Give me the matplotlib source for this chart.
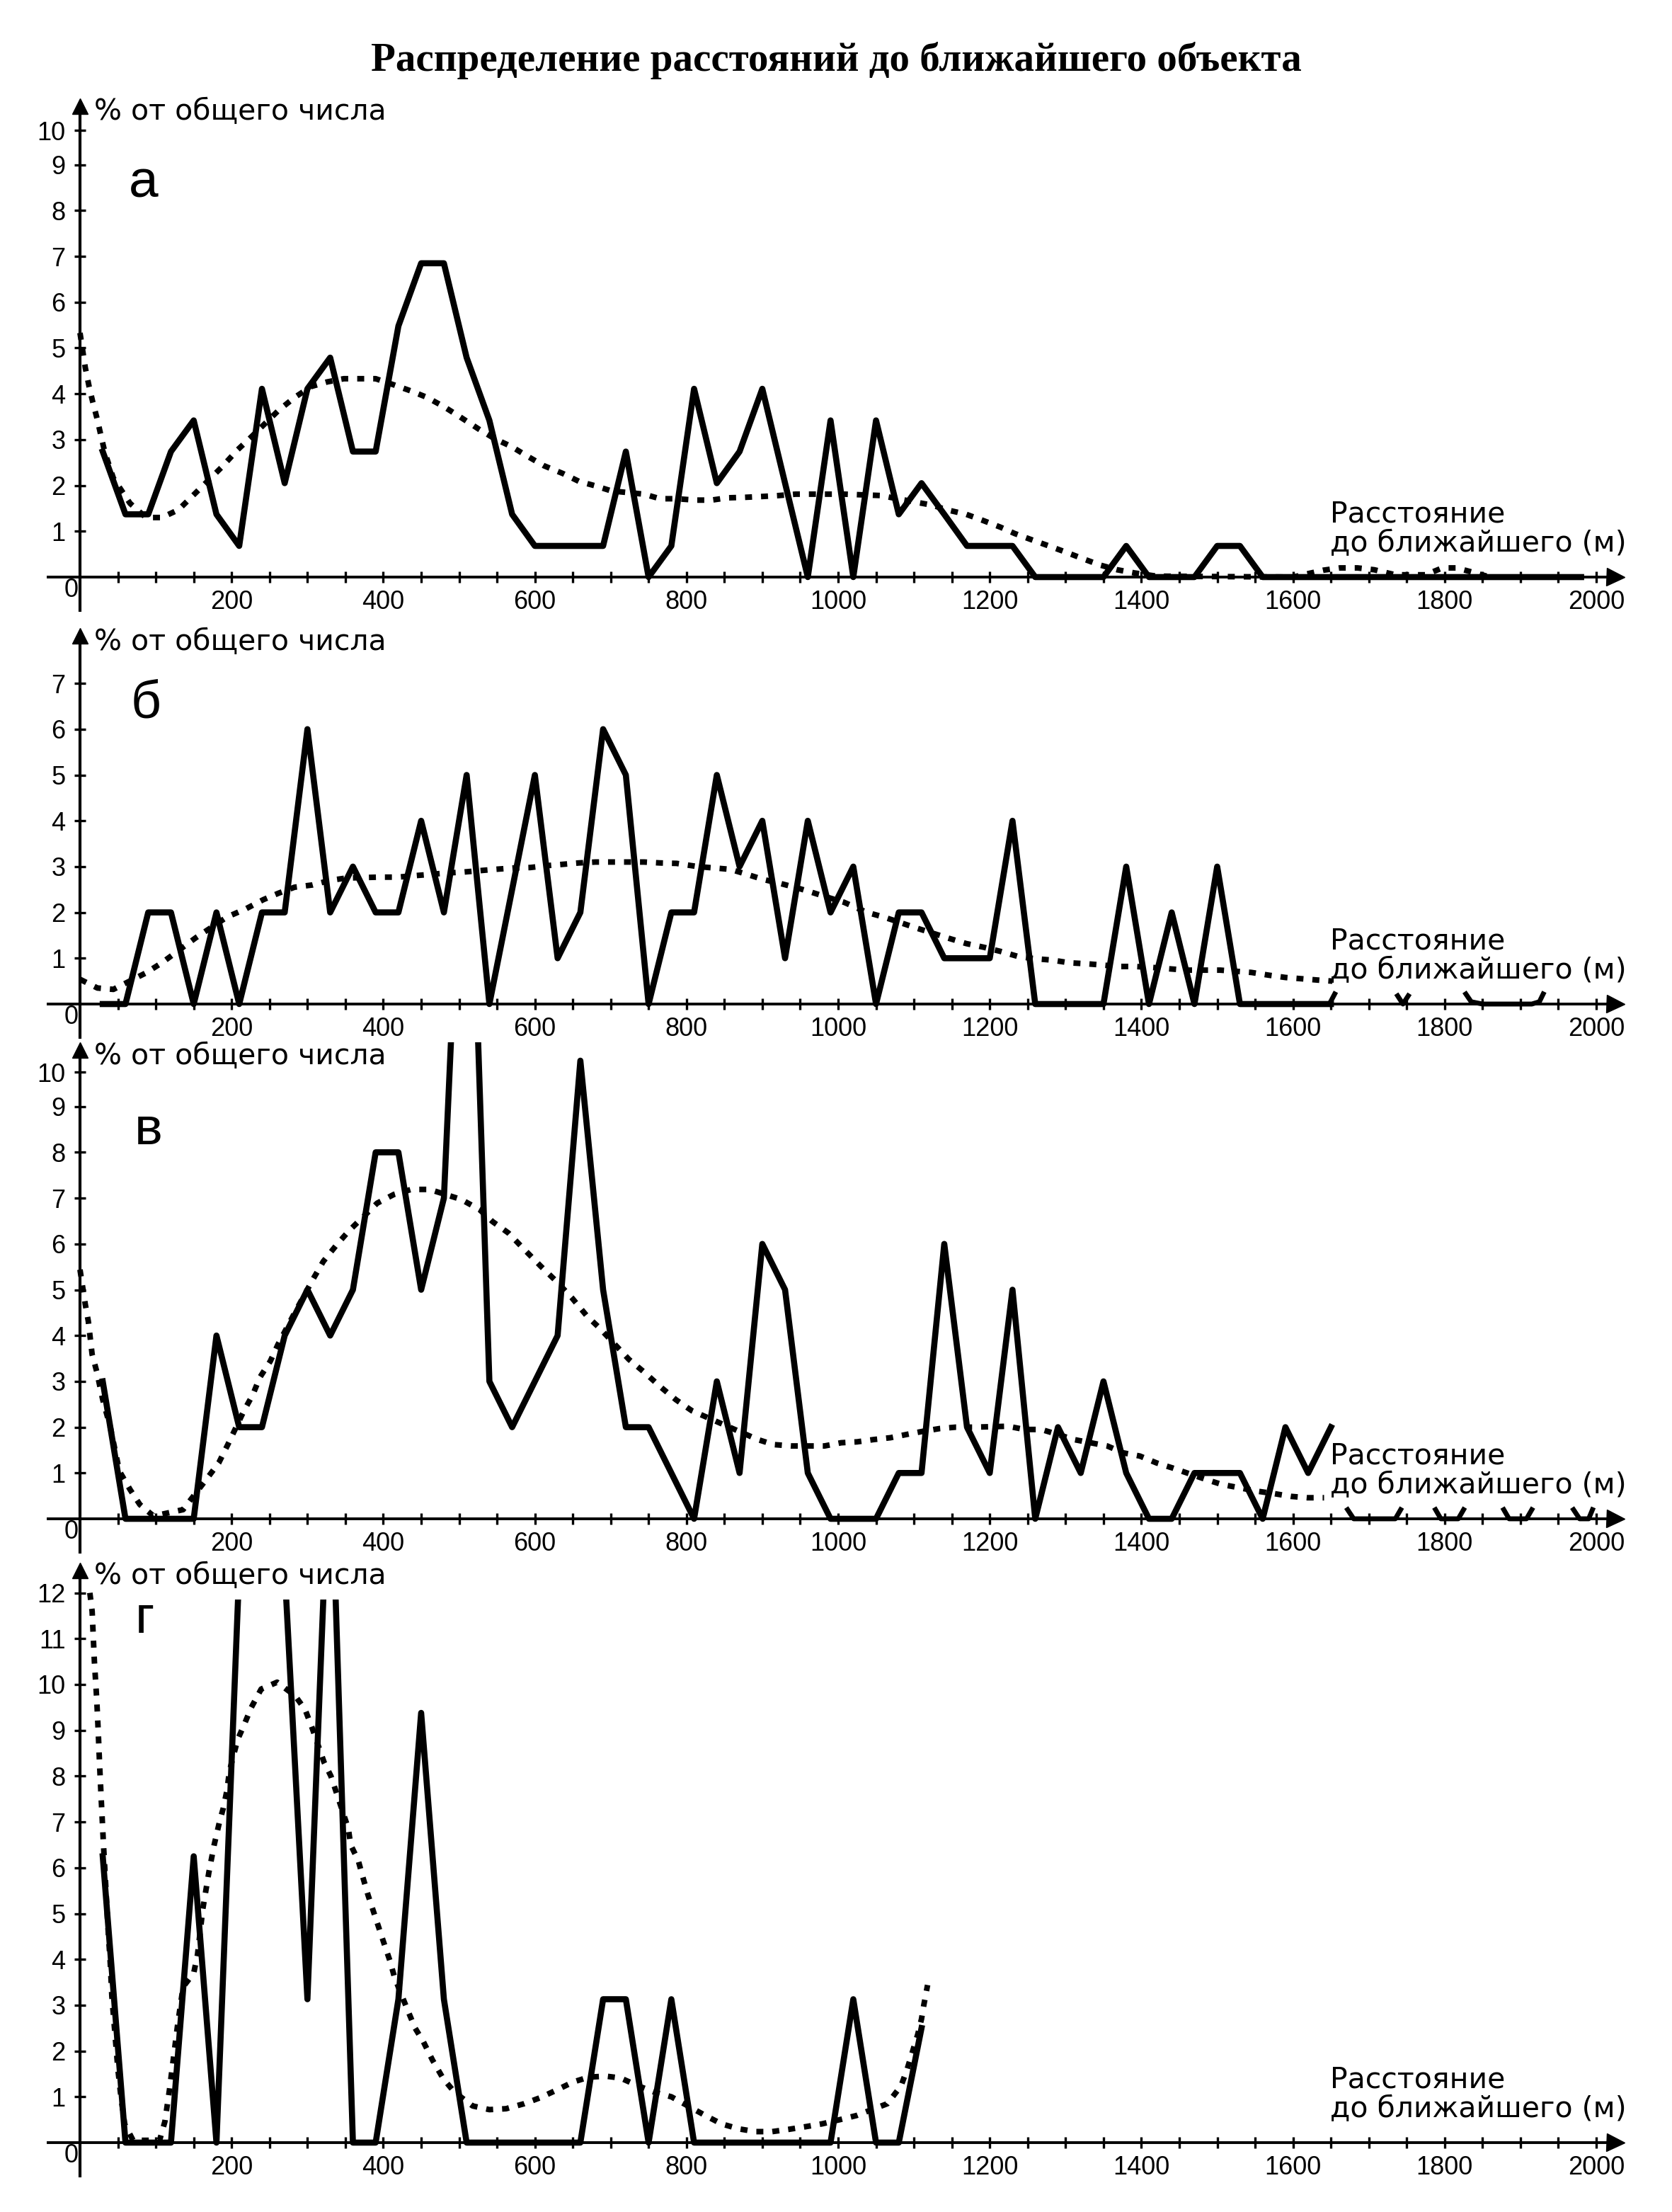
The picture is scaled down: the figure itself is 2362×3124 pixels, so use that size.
import numpy as np
import matplotlib
matplotlib.use('Agg')
import matplotlib.pyplot as plt
from matplotlib.patches import Rectangle

plt.rcParams['font.family'] = ['Liberation Sans', 'DejaVu Sans']

# ---------------- данные ----------------
TITLE = 'Распределение расстояний до ближайшего объекта'
Y_LABEL = '% от общего числа'
X_LABEL = 'Расстояние\nдо ближайшего (м)'
X_TICKS = [200, 400, 600, 800, 1000, 1200, 1400, 1600, 1800, 2000]

# а
A_X = list(range(30, 1981, 30))
A_Y = [2.74, 1.37, 1.37, 2.74, 3.42, 1.37, 0.68, 4.11, 2.05, 4.11,
       4.79, 2.74, 2.74, 5.48, 6.85, 6.85, 4.79, 3.42, 1.37, 0.68,
       0.68, 0.68, 0.68, 2.74, 0, 0.68, 4.11, 2.05, 2.74, 4.11,
       2.05, 0, 3.42, 0, 3.42, 1.37, 2.05, 1.37, 0.68, 0.68,
       0.68, 0, 0, 0, 0, 0.68, 0, 0, 0, 0.68,
       0.68, 0, 0, 0, 0, 0, 0, 0, 0, 0,
       0, 0, 0, 0, 0, 0]
A_SMOOTH_X = [0, 7, 12, 17, 23, 28, 33, 44, 66, 87, 108, 130, 149, 187, 208, 226,
              262, 283, 305, 326, 348, 369, 390, 415, 437, 458, 481, 501, 526,
              547, 569, 590, 612, 637, 658, 680, 701, 744, 765, 787, 812, 833,
              854, 876, 901, 922, 944, 965, 986, 1008, 1056, 1101, 1124, 1143,
              1169, 1192, 1214, 1233, 1256, 1278, 1301, 1323, 1346, 1368, 1391,
              1420, 1600, 1640, 1662, 1685, 1707, 1735, 1775, 1797, 1816, 1838,
              1860, 1990]
A_SMOOTH_Y = [5.33, 4.57, 4.16, 3.81, 3.43, 3.06, 2.71, 2.16, 1.61, 1.30, 1.30,
              1.47, 1.78, 2.40, 2.78, 3.06, 3.64, 3.92, 4.16, 4.26, 4.33, 4.33,
              4.33, 4.19, 4.06, 3.92, 3.71, 3.50, 3.23, 3.02, 2.85, 2.64, 2.43,
              2.26, 2.09, 1.99, 1.88, 1.81, 1.71, 1.71, 1.68, 1.68, 1.73, 1.74,
              1.76, 1.78, 1.81, 1.81, 1.81, 1.81, 1.78, 1.64, 1.57, 1.47, 1.37,
              1.23, 1.09, 0.95, 0.81, 0.68, 0.54, 0.40, 0.26, 0.16, 0.09, 0.02,
              0.0, 0.15, 0.2, 0.2, 0.16, 0.05, 0.05, 0.2, 0.2, 0.1, 0.0, 0.0]

# б
B_X = list(range(30, 1651, 30))
B_Y = [0, 0, 2, 2, 0, 2, 0, 2, 2, 6,
       2, 3, 2, 2, 4, 2, 5, 0, 2.5, 5,
       1, 2, 6, 5, 0, 2, 2, 5, 3, 4,
       1, 4, 2, 3, 0, 2, 2, 1, 1, 1,
       4, 0, 0, 0, 0, 3, 0, 2, 0, 3,
       0, 0, 0, 0, 0]
B_SMOOTH_X = [0, 23, 44, 87, 108, 153, 194, 219, 242, 262, 283, 307, 330, 351,
              394, 419, 440, 462, 483, 505, 526, 547, 572, 594, 615, 637, 658,
              680, 701, 722, 744, 765, 787, 815, 837, 858, 880, 901, 922, 947,
              965, 986, 1008, 1038, 1060, 1105, 1147, 1169, 1192, 1214, 1237,
              1259, 1282, 1305, 1327, 1350, 1368, 1391, 1414, 1436, 1459, 1481,
              1504, 1545, 1568, 1590, 1613, 1635, 1652]
B_SMOOTH_Y = [0.54, 0.35, 0.32, 0.68, 0.90, 1.45, 1.90, 2.08, 2.28, 2.42, 2.55,
              2.60, 2.70, 2.75, 2.77, 2.77, 2.80, 2.83, 2.86, 2.88, 2.91, 2.94,
              2.97, 2.98, 3.02, 3.05, 3.08, 3.10, 3.10, 3.10, 3.10, 3.08, 3.07,
              3.00, 2.97, 2.94, 2.83, 2.72, 2.64, 2.53, 2.44, 2.33, 2.22, 2.00,
              1.90, 1.65, 1.43, 1.32, 1.24, 1.15, 1.04, 0.99, 0.96, 0.90, 0.88,
              0.85, 0.82, 0.82, 0.80, 0.77, 0.74, 0.74, 0.74, 0.69, 0.63, 0.58,
              0.55, 0.52, 0.50]
B_TAIL_X = [1648, 1655, np.nan, 1738, 1745, 1752, np.nan,
            1828, 1835, 1850, 1915, 1925, 1930]
B_TAIL_Y = [0, 0.22, np.nan, 0.18, 0.0, 0.18, np.nan,
            0.22, 0.05, 0.0, 0.0, 0.05, 0.22]

# в
V_X = list(range(30, 1651, 30))
V_Y = [3, 0, 0, 0, 0, 4, 2, 2, 4, 5,
       4, 5, 8, 8, 5, 7, 18, 3, 2, 3,
       4, 10, 5, 2, 2, 1, 0, 3, 1, 6,
       5, 1, 0, 0, 0, 1, 1, 6, 2, 1,
       5, 0, 2, 1, 3, 1, 0, 0, 1, 1,
       1, 0, 2, 1, 2]
V_SMOOTH_X = [0, 7, 11, 16, 22, 30, 40, 52, 66, 79, 97, 136, 168, 183, 195, 216,
              228, 237, 251, 261, 282, 307, 321, 339, 355, 392, 414, 437, 461,
              503, 527, 544, 565, 586, 608, 628, 649, 669, 685, 724, 745, 765,
              786, 807, 894, 915, 939, 960, 982, 1004, 1025, 1047, 1069, 1090,
              1112, 1134, 1155, 1177, 1224, 1246, 1268, 1290, 1311, 1355, 1376,
              1398, 1420, 1441, 1485, 1506, 1554, 1575, 1597, 1619, 1641]
V_SMOOTH_Y = [5.44, 4.68, 4.31, 3.59, 3.22, 2.60, 2.00, 1.04, 0.64, 0.31, 0.06,
              0.20, 0.89, 1.22, 1.62, 2.35, 2.71, 3.08, 3.44, 3.80, 4.46, 5.22,
              5.62, 5.99, 6.29, 6.89, 7.08, 7.19, 7.19, 6.97, 6.75, 6.49, 6.24,
              5.88, 5.51, 5.19, 4.82, 4.42, 4.17, 3.48, 3.19, 2.89, 2.60, 2.36,
              1.73, 1.62, 1.59, 1.59, 1.59, 1.66, 1.68, 1.73, 1.77, 1.84, 1.91,
              1.97, 2.00, 2.00, 2.02, 1.95, 1.95, 1.84, 1.73, 1.59, 1.44, 1.37,
              1.22, 1.11, 0.86, 0.75, 0.60, 0.55, 0.49, 0.46, 0.46]
V_TAIL_X = [1672, 1680, 1735, 1742, np.nan, 1788, 1795, 1818, 1825, np.nan,
            1878, 1885, 1908, 1915, np.nan, 1970, 1978, 1990, 1995]
V_TAIL_Y = [0.2, 0, 0, 0.2, np.nan, 0.2, 0, 0, 0.2, np.nan,
            0.2, 0, 0, 0.2, np.nan, 0.2, 0, 0, 0.2]

# г
G_X = list(range(30, 1111, 30))
G_Y = [6.25, 0, 0, 0, 6.25, 0, 12.5, 18.75, 12.5, 3.13,
       15.63, 0, 0, 3.13, 9.38, 3.13, 0, 0, 0, 0,
       0, 0, 3.13, 3.13, 0, 3.13, 0, 0, 0, 0,
       0, 0, 0, 3.13, 0, 0, 2.5]
G_SMOOTH_X = [13, 16, 19, 22, 24, 26, 28, 31, 34, 36.5, 40, 42, 46, 50, 54, 59,
              70, 105, 112, 118, 129, 136, 150, 155, 162, 170, 177, 184, 189,
              194, 197, 208, 216, 226, 239, 260, 284, 297, 306, 322, 331, 339,
              354, 357, 367, 373, 380, 386, 394, 400, 409, 415, 432, 442, 453,
              465, 479, 494, 518, 540, 562, 586, 607, 629, 650, 671, 694, 713,
              736, 758, 780, 825, 846, 869, 891, 913, 935, 958, 979, 1002,
              1024, 1065, 1083, 1091, 1105, 1110, 1113, 1118]
G_SMOOTH_Y = [12.0, 11.6, 10.5, 9.7, 9.0, 8.2, 7.5, 6.5, 5.6, 4.8, 3.9, 3.2,
              2.4, 1.6, 1.0, 0.4, 0.05, 0.05, 0.46, 1.15, 2.6, 3.4, 3.7, 4.1,
              5.1, 5.9, 6.5, 7.0, 7.3, 7.7, 8.1, 8.8, 9.1, 9.5, 9.9, 10.05,
              9.75, 9.45, 9.06, 8.3, 8.0, 7.6, 6.85, 6.5, 6.16, 5.8, 5.4, 5.1,
              4.7, 4.4, 3.96, 3.6, 2.9, 2.5, 2.2, 1.8, 1.4, 1.1, 0.8, 0.72,
              0.74, 0.85, 0.98, 1.15, 1.32, 1.43, 1.45, 1.41, 1.24, 1.1, 1.0,
              0.59, 0.41, 0.3, 0.24, 0.24, 0.29, 0.35, 0.41, 0.5, 0.59, 0.85,
              1.24, 1.6, 2.36, 2.7, 3.0, 3.44]

# ---------------- геометрия рисунка ----------------
W, H = 2362, 3124
X0_PX = 113          # пиксель x=0
PX_PER_M = 1.071
PX_PER_UNIT = 64.7
TICK_FONT = ['Liberation Sans Narrow', 'Liberation Sans', 'DejaVu Sans']
TICK_SIZE = 26

fig = plt.figure(figsize=(W / 100, H / 100), dpi=100)
fig.text(0.5, 1 - 85 / H, TITLE, ha='center', va='center', fontsize=41,
         fontweight='bold', family=['Liberation Serif', 'DejaVu Serif'])

LW = 6.2


def draw_panel(y0_px, top, yticks, yticklabels, clip_top, letter, letter_xy,
               sx, sy, dx, dy, tx=None, ty=None):
    xlo, xhi = -50, 2060
    ylo, yhi = -0.85, top + 0.15
    left = (X0_PX + xlo * PX_PER_M) / W
    width = (xhi - xlo) * PX_PER_M / W
    bot_px = y0_px - ylo * PX_PER_UNIT
    top_px = y0_px - yhi * PX_PER_UNIT
    ax = fig.add_axes([left, 1 - bot_px / H, width, (bot_px - top_px) / H])
    ax.set_xlim(xlo, xhi)
    ax.set_ylim(ylo, yhi)
    ax.patch.set_visible(False)

    # оси со стрелками
    ax.spines['top'].set_visible(False)
    ax.spines['right'].set_visible(False)
    ax.spines['left'].set_position(('data', 0))
    ax.spines['bottom'].set_position(('data', 0))
    ax.spines['left'].set_bounds(-0.72, top - 0.17)
    ax.spines['bottom'].set_bounds(-42, 2025)
    ax.spines['left'].set_linewidth(3)
    ax.spines['bottom'].set_linewidth(2.8)
    ax.plot([2025], [0], marker='>', ms=18, color='k', clip_on=False)
    ax.plot([0], [top - 0.17], marker='^', ms=16, color='k', clip_on=False)

    ax.set_xticks(X_TICKS)
    ax.set_xticks(np.arange(50, 2001, 50), minor=True)
    ax.set_yticks(yticks)
    ax.set_yticklabels(yticklabels)
    ax.tick_params(which='both', direction='inout', length=11.5, width=2.4,
                   color='k')
    ax.tick_params(axis='x', labelsize=TICK_SIZE, pad=7)
    ax.tick_params(axis='y', labelsize=TICK_SIZE, pad=9)
    for lbl in ax.get_xticklabels() + ax.get_yticklabels():
        lbl.set_family(TICK_FONT)
    ax.text(-12, -0.29, '0', fontsize=TICK_SIZE, ha='center', va='center',
            family=TICK_FONT)

    # кривые
    sl, = ax.plot(sx, sy, color='k', lw=LW, solid_joinstyle='round', zorder=3)
    if clip_top is not None:
        sl.set_clip_path(Rectangle((xlo, ylo), xhi - xlo, clip_top - ylo,
                                   transform=ax.transData))
    ax.plot(dx, dy, color='k', lw=LW * 0.92, linestyle=(0, (1.25, 1.6)),
            dash_capstyle='butt', zorder=3)
    if tx is not None:
        ax.plot(tx, ty, color='k', lw=LW * 0.8, zorder=3)

    # подписи
    ax.text(letter_xy[0], letter_xy[1], letter, fontsize=54, ha='center',
            va='center')
    ax.text(19, top - 0.3, Y_LABEL, fontsize=29.5, ha='left', va='center',
            family=['DejaVu Sans'])
    ax.text(1649, 1.05, X_LABEL, fontsize=29.5, ha='left', va='center',
            linespacing=1.05, family=['DejaVu Sans'])
    return ax


ticks10 = [1, 2, 3, 4, 5, 6, 7, 8, 9, 9.75]
labels10 = [str(i) for i in range(1, 11)]

draw_panel(815, 10.45, ticks10, labels10, None, 'а', (84, 8.6),
           A_X, A_Y, A_SMOOTH_X, A_SMOOTH_Y)
draw_panel(1418, 8.2, list(range(1, 8)), [str(i) for i in range(1, 8)], None,
           'б', (87, 6.56), B_X, B_Y, B_SMOOTH_X, B_SMOOTH_Y,
           B_TAIL_X, B_TAIL_Y)
draw_panel(2145, 10.4, ticks10, labels10, 10.4, 'в', (90, 8.47),
           V_X, V_Y, V_SMOOTH_X, V_SMOOTH_Y, V_TAIL_X, V_TAIL_Y)
draw_panel(3026, 12.66, list(range(1, 13)), [str(i) for i in range(1, 13)],
           11.85, 'г', (85, 11.43), G_X, G_Y, G_SMOOTH_X, G_SMOOTH_Y)

fig.savefig('out.png', dpi=100)
